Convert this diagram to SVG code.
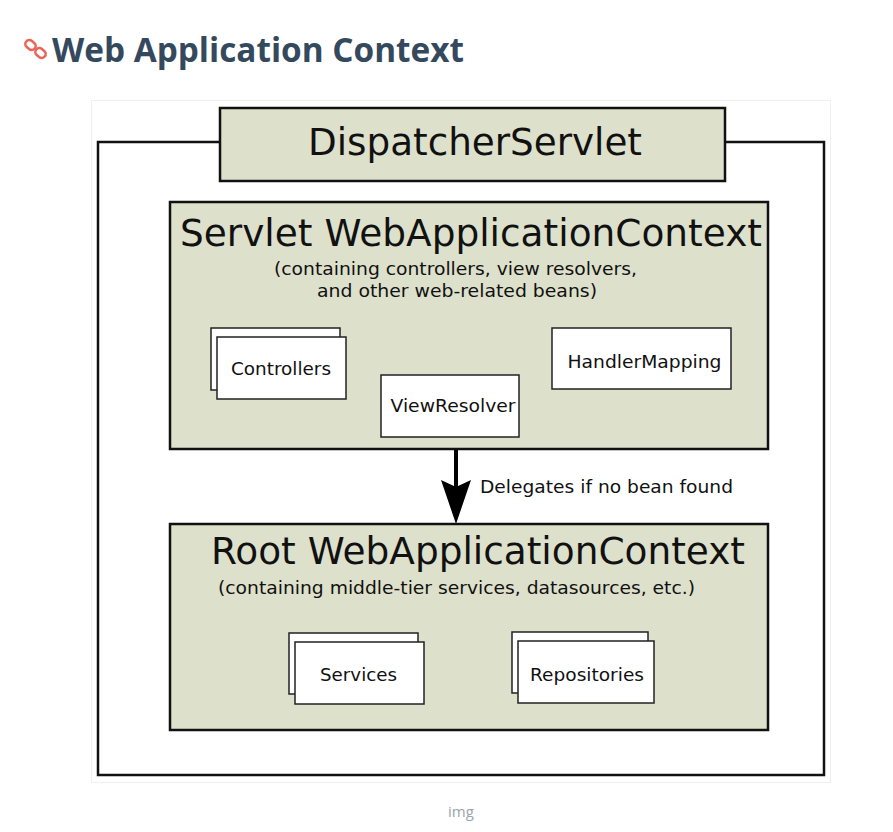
<svg xmlns="http://www.w3.org/2000/svg" width="893" height="832" viewBox="0 0 893 832">
<style>
.ctx{fill:#dde0cb;stroke:#111;stroke-width:2.5}
.bean{fill:#fff;stroke:#222;stroke-width:1.5}
.big{font-family:"DejaVu Sans",sans-serif;font-size:37px;fill:#111;text-anchor:middle}
.sub{font-family:"DejaVu Sans",sans-serif;font-size:17.5px;fill:#111;text-anchor:middle}
.lbl{font-family:"DejaVu Sans",sans-serif;font-size:18px;fill:#111;text-anchor:middle}
</style>
<rect width="893" height="832" fill="#fff"/>
<g id="heading">
<g fill="none" stroke="#e9675a" stroke-width="2.6">
<rect x="25" y="41" width="11" height="8" rx="4" transform="rotate(40 30.5 45)"/>
<rect x="35" y="49" width="11" height="8" rx="4" transform="rotate(40 40.5 53)"/>
</g>
<text x="52" y="62" font-family="'Open Sans',sans-serif" font-weight="bold" font-size="33.5" fill="#34495e" textLength="412" lengthAdjust="spacingAndGlyphs">Web Application Context</text>
</g>
<rect x="91.5" y="100.5" width="739" height="682" fill="#fff" stroke="#eef0f4" stroke-width="1"/>
<g id="outer">
<rect x="98" y="142" width="726" height="633" fill="none" stroke="#111" stroke-width="2.5"/>
</g>
<g id="dispatcher">
<rect class="ctx" x="220" y="108" width="505" height="73"/>
<text class="big" x="475" y="155" textLength="334" lengthAdjust="spacingAndGlyphs">DispatcherServlet</text>
</g>
<g id="servlet-ctx">
<rect class="ctx" x="170" y="202" width="598" height="247"/>
<text class="big" x="471" y="246" textLength="582" lengthAdjust="spacingAndGlyphs">Servlet WebApplicationContext</text>
<text class="sub" x="455.5" y="275" textLength="363" lengthAdjust="spacingAndGlyphs">(containing controllers, view resolvers,</text>
<text class="sub" x="457" y="297" textLength="280" lengthAdjust="spacingAndGlyphs">and other web-related beans)</text>
</g>
<g id="controllers">
<rect class="bean" x="211" y="328" width="129" height="62"/>
<rect class="bean" x="217" y="337" width="129" height="62"/>
<text class="lbl" x="281" y="375" textLength="100" lengthAdjust="spacingAndGlyphs">Controllers</text>
</g>
<g id="viewresolver">
<rect class="bean" x="381" y="375" width="138" height="62"/>
<text class="lbl" x="453" y="412" textLength="125" lengthAdjust="spacingAndGlyphs">ViewResolver</text>
</g>
<g id="handlermapping">
<rect class="bean" x="552" y="328" width="179" height="61"/>
<text class="lbl" x="644.5" y="368" textLength="154" lengthAdjust="spacingAndGlyphs">HandlerMapping</text>
</g>
<g id="root-ctx">
<rect class="ctx" x="170" y="524" width="598" height="206"/>
<text class="big" x="478" y="564" textLength="534" lengthAdjust="spacingAndGlyphs">Root WebApplicationContext</text>
<text class="sub" x="456.5" y="594" textLength="477" lengthAdjust="spacingAndGlyphs">(containing middle-tier services, datasources, etc.)</text>
</g>
<g id="services">
<rect class="bean" x="289" y="633" width="129" height="61"/>
<rect class="bean" x="295" y="642" width="129" height="62"/>
<text class="lbl" x="358.5" y="681" textLength="77" lengthAdjust="spacingAndGlyphs">Services</text>
</g>
<g id="repositories">
<rect class="bean" x="512" y="632" width="136" height="61"/>
<rect class="bean" x="518" y="641" width="136" height="62"/>
<text class="lbl" x="587" y="681" textLength="114" lengthAdjust="spacingAndGlyphs">Repositories</text>
</g>
<g id="connectors">
<line x1="456" y1="450" x2="456" y2="490" stroke="#000" stroke-width="4"/>
<path d="M441,480 L456,487 L471,480 L456,524 Z" fill="#000"/>
<text x="480" y="493" font-family="'DejaVu Sans',sans-serif" font-size="18" fill="#111" textLength="253" lengthAdjust="spacingAndGlyphs">Delegates if no bean found</text>
</g>
<text x="461" y="817" font-family="'Open Sans',sans-serif" font-size="15" fill="#9aa3ad" text-anchor="middle">img</text>
</svg>
